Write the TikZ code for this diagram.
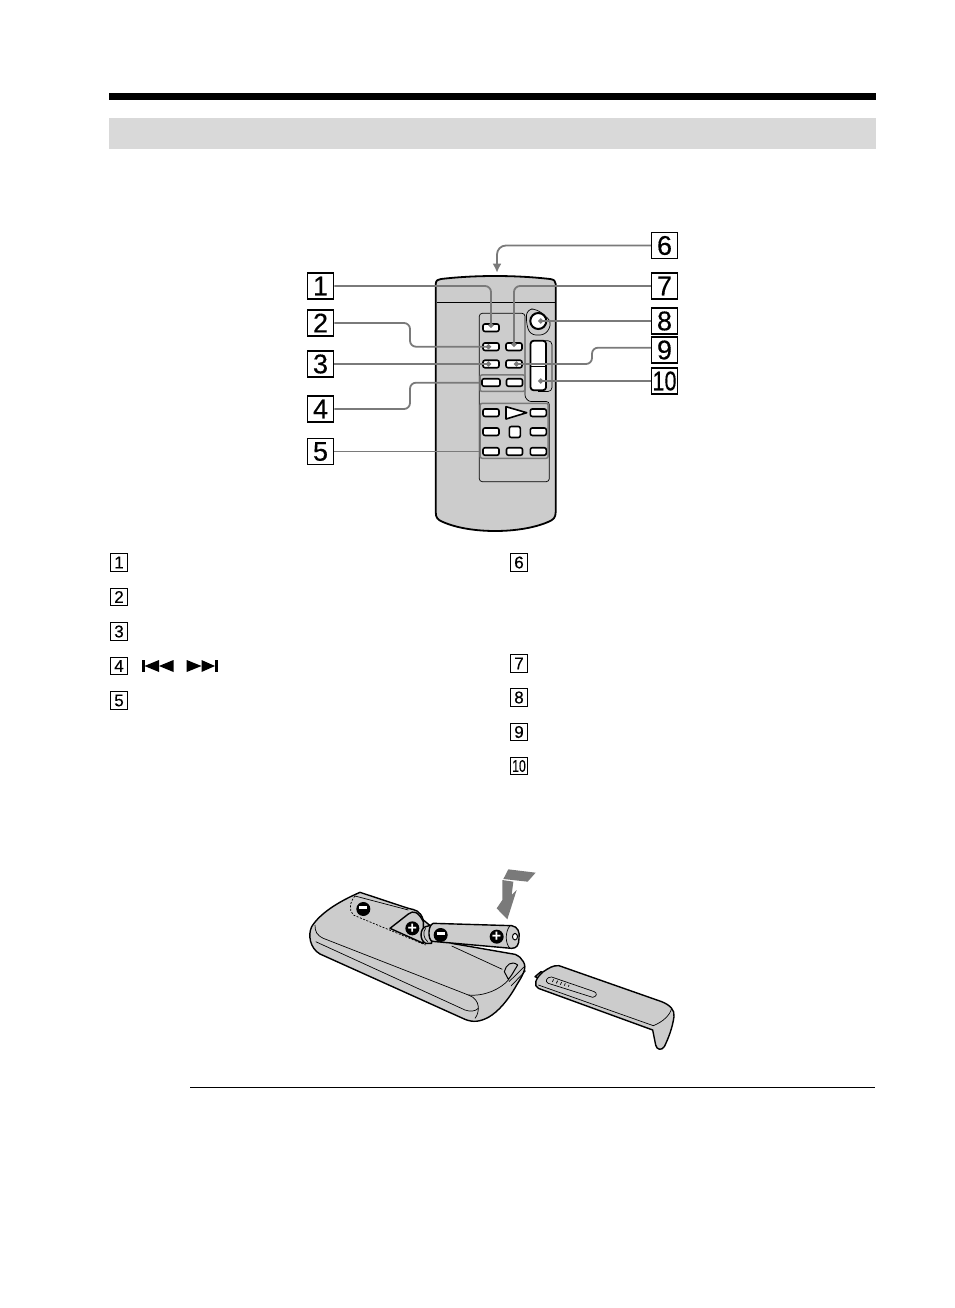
\documentclass[tikz,border=0pt]{standalone}
\usepackage{fontspec}
\usepackage{graphicx}
\usetikzlibrary{arrows.meta}
\setmainfont{Liberation Sans}
\newfontfamily\numfont[FakeBold=0.35]{Liberation Sans}
\definecolor{bodygray}{gray}{0.8}
\definecolor{bandgray}{gray}{0.85}
\definecolor{leadgray}{gray}{0.48}
\tikzset{
    numbig/.style = {rectangle, draw = black, fill = white, line width = 1.5pt, inner sep = 0pt,
        minimum width = 26pt, minimum height = 26pt, font = \numfont\fontsize{27}{27}\selectfont},
    numsmall/.style = {rectangle, draw = black, fill = white, line width = 1.2pt, inner sep = 0pt,
        minimum width = 17.5pt, minimum height = 17.5pt, font = \numfont\fontsize{17}{17}\selectfont},
    btn/.style = {rectangle, rounded corners = 2pt, draw = black, fill = white, line width = 1.6pt,
        inner sep = 0pt, minimum width = 16pt, minimum height = 7.5pt},
    grp/.style = {rectangle, rounded corners = 2pt, draw = leadgray, line width = 1.5pt, inner sep = 0pt},
    leader/.style = {draw = leadgray, line width = 1.8pt, rounded corners = 6pt},
    leaddot/.style = {leader, -{Circle[length=5pt]}},
    outl/.style = {draw = black, line width = 1.4pt, line join = round},
    thin line/.style = {draw = black, line width = 0.7pt},
    sign/.style = {circle, fill = black, inner sep = 0pt, minimum size = 14pt,
        text = white, font = \bfseries\fontsize{16}{16}\selectfont}
}
\begin{document}
\begin{tikzpicture}[x=1pt, y=-1pt]
\useasboundingbox (0,0) rectangle (954,1308);

% page header
\fill[black] (109,93) rectangle (876,100);
\fill[bandgray] (109,118) rectangle (876,149);

% remote control, front
\draw[outl, fill = bodygray, line width = 1.8pt] (435.7,284) .. controls (436,280) and (438,279.5) .. (441,279)
    .. controls (475,275) and (515,275) .. (550,279)
    .. controls (554,279.5) and (555.7,281) .. (555.7,284) -- (555.7,512)
    .. controls (555.7,518) and (553,520) .. (548,522)
    .. controls (520,534) and (470,534) .. (443,522)
    .. controls (438,520) and (435.7,518) .. (435.7,512) -- cycle;
\draw[thin line] (437,302.7) -- (555,302.7);
\draw[thin line, rounded corners = 3pt] (479.3,313.3) -- (525,313.3) -- (525,392)
    .. controls (525,398) and (528,401.5) .. (534,401.5) -- (549.3,401.5) -- (549.3,481.7) -- (479.3,481.7) -- cycle;

\node[grp, minimum width = 45pt, minimum height = 16.5pt] (g4) at (502.5,383.2) {};
\node[grp, minimum width = 68pt, minimum height = 55pt] (g5) at (514.2,430.8) {};

\node[btn] (b1) at (491,327.7) {};
\node[btn] (b2) at (491,346.7) {};
\node[btn] (b7) at (514,346.7) {};
\node[btn] (b3) at (491,364) {};
\node[btn] (b9) at (514,364) {};
\node[btn, minimum width = 18pt] (b4a) at (491,382.5) {};
\node[btn] (b4b) at (514.5,382.5) {};
\node[btn] (b5a) at (491,412.7) {};
\node[btn] (b5b) at (538.3,412.7) {};
\node[btn] (b5c) at (491,431.7) {};
\node[btn] (b5d) at (538.3,431.7) {};
\node[btn] (b5e) at (491,451.5) {};
\node[btn] (b5f) at (514.5,451.5) {};
\node[btn] (b5g) at (538.3,451.5) {};
\draw[outl, fill = white, line width = 1.6pt] (506,406.7) -- (526.7,412.7) -- (506,419) -- cycle;
\node[btn, minimum width = 11pt, minimum height = 11pt] (b5s) at (514.8,432) {};

\draw[thin line, rounded corners = 6pt] (527,309) -- (537,309) -- (552,322) -- (546,335) -- (530,335) -- (526,322) -- cycle;
\node[circle, draw = black, fill = white, line width = 2pt, inner sep = 0pt, minimum size = 16pt] (c8) at (538.3,321) {};
\draw[thin line, rounded corners = 4pt] (538,340.7) -- (552,340.7) -- (552,391.5) -- (538,391.5);
\node[rectangle, rounded corners = 3pt, draw = black, fill = white, line width = 1.8pt, inner sep = 0pt,
    minimum width = 15.5pt, minimum height = 49.5pt] (zm) at (538.3,365.5) {};
\draw[outl, line width = 1pt] (zm.west |- 0,366.7) -- (zm.east |- 0,366.7);
\coordinate (zt) at (538.3,381);

% callouts
\node[numbig] (n1) at (320.5,286) {1};
\node[numbig] (n2) at (320.5,323) {2};
\node[numbig] (n3) at (320.5,364) {3};
\node[numbig] (n4) at (320.5,409) {4};
\node[numbig] (n5) at (320.5,451.5) {5};
\node[numbig] (n6) at (664.5,245.5) {6};
\node[numbig] (n7) at (664.5,286) {7};
\node[numbig] (n8) at (664.5,321) {8};
\node[numbig] (n9) at (664.5,350) {9};
\node[numbig] (n10) at (664.5,381) {\scalebox{0.8}[1]{10}};

\coordinate (k2) at (410,346.7);
\coordinate (k4) at (410,382.7);
\coordinate (k6) at (497,272.7);
\coordinate (k9) at (592,364);

\draw[leaddot] (n1.east) -| (b1.center);
\draw[leaddot] (n2.east) -| (k2) -- (b2.center);
\draw[leaddot] (n3.east) -- (b3.center);
\draw[leader] (n4.east) -| (k4) -- (g4.west |- k4);
\draw[leader] (n5.east) -- (g5.west |- n5.east);
\draw[leader, rounded corners = 9pt, -{Latex[length=9pt, width=9pt]}] (n6.west) -| (k6);
\draw[leaddot] (n7.west) -| (b7.center);
\draw[leaddot] (n8.west) -- (c8.center);
\draw[leaddot] (n9.west |- 0,347.7) -| (k9) -- (b9.center);
\draw[leaddot] (n10.west) -- (zt);

% legend numbers
\node[numsmall] (s1) at (119,562.5) {1};
\node[numsmall] (s2) at (119,597) {2};
\node[numsmall] (s3) at (119,631.5) {3};
\node[numsmall] (s4) at (119,666) {4};
\node[numsmall] (s5) at (119,700.5) {5};
\node[numsmall] (s6) at (519,562.5) {6};
\node[numsmall] (s7) at (519,663.5) {7};
\node[numsmall] (s8) at (519,697.5) {8};
\node[numsmall] (s9) at (519,732) {9};
\node[numsmall] (s10) at (519,766) {\scalebox{0.72}[1]{10}};

% previous, next symbols
\fill[black] (141.7,660) rectangle (144.5,672);
\fill[black] (144.5,666) -- (159,660) -- (159,672) -- cycle;
\fill[black] (159,666) -- (173.5,660) -- (173.5,672) -- cycle;
\fill[black] (186.7,660) -- (201.5,666) -- (186.7,672) -- cycle;
\fill[black] (201.5,660) -- (215,666) -- (201.5,672) -- cycle;
\fill[black] (215,660) rectangle (218,672);

% remote control, battery side
\begin{scope}[shift={(295,860)}, scale=1/3]
\draw[outl, fill = bodygray] (195,97) .. controls (130,125) and (75,160) .. (50,200)
    .. controls (38,225) and (45,265) .. (75,282) -- (510,478)
    .. controls (535,488) and (555,485) .. (580,472)
    .. controls (610,455) and (640,420) .. (665,375)
    .. controls (680,350) and (698,325) .. (685,305)
    .. controls (680,295) and (672,288) .. (660,283)
    -- (470,250) -- (385,180)
    .. controls (375,150) and (360,150) .. (340,145) -- cycle;
\draw[thin line] (60,195) .. controls (60,215) and (65,225) .. (85,235) -- (520,405)
    .. controls (540,412) and (548,425) .. (550,440) .. controls (550,455) and (548,465) .. (540,475);
\draw[thin line] (520,405) .. controls (570,410) and (620,385) .. (642,358);
\draw[thin line] (62,245) -- (510,450) .. controls (525,455) and (540,455) .. (550,445);
\draw[thin line, dash pattern = on 2pt off 1.5pt] (180,108) .. controls (165,125) and (160,150) .. (175,165) -- (392,255);
\draw[thin line] (180,108) -- (340,150);
\draw[outl, fill = bodygray] (285,205) -- (340,162) .. controls (355,150) and (370,155) .. (385,185) -- (385,250) -- cycle;
\draw[thin line] (470,258) -- (622,328);
\draw[thin line] (642,365) -- (690,318);
\draw[thin line] (648,378) -- (692,332);
\draw[outl, fill = bodygray, line width = 1pt] (628,335) .. controls (632,315) and (650,300) .. (668,315) -- (650,345) -- (640,358) -- cycle;
\node[sign] (m1) at (205,147) {\rule[2.6pt]{8pt}{2.6pt}};
\node[sign] (p1) at (352,205) {+};

% battery
\draw[outl, fill = bodygray] (392,200) .. controls (375,205) and (372,240) .. (392,250) -- (410,250) -- (410,195) -- cycle;
\draw[thin line] (392,205) .. controls (383,215) and (385,235) .. (398,245);
\draw[outl, fill = bodygray] (415,190) -- (650,197) .. controls (668,200) and (675,215) .. (672,235)
    .. controls (672,255) and (665,265) .. (650,265) -- (412,244)
    .. controls (398,240) and (398,195) .. (415,190) -- cycle;
\draw[thin line] (645,197) .. controls (630,215) and (630,250) .. (645,265);
\draw[outl, fill = white, line width = 1pt] (660,220) .. controls (650,222) and (650,238) .. (660,240)
    .. controls (670,238) and (670,222) .. (660,220) -- cycle;
\node[sign] (m2) at (437,225) {\rule[2.6pt]{8pt}{2.6pt}};
\node[sign] (p2) at (605,230) {+};

% falling arrow
\fill[leadgray] (640,28) -- (722,38) -- (698,65) -- (625,57) -- cycle;
\fill[leadgray] (622,60) -- (655,65) -- (650,105) -- (665,90) -- (637,178) -- (605,145) -- (622,120) -- cycle;

% lid
\draw[outl, fill = bodygray] (720,350) -- (738,335) -- (750,340) -- (745,360) -- cycle;
\draw[outl, fill = bodygray] (745,335) .. controls (760,325) and (775,315) .. (792,317) -- (1100,425)
    .. controls (1125,435) and (1140,450) .. (1137,470)
    .. controls (1132,505) and (1120,535) .. (1108,560)
    .. controls (1100,572) and (1085,570) .. (1082,555)
    -- (1073,510) -- (730,385) .. controls (715,378) and (720,355) .. (745,335) -- cycle;
\draw[thin line] (730,375) -- (1075,497) .. controls (1105,485) and (1125,465) .. (1130,445);
\draw[thin line] (770,351) -- (898,395) .. controls (908,400) and (905,410) .. (893,412)
    -- (760,370) .. controls (748,365) and (755,350) .. (770,351) -- cycle;
\draw[thin line] (776,358) -- (772,366);
\draw[thin line] (788,362) -- (784,370);
\draw[thin line] (800,366) -- (796,374);
\draw[thin line] (811,370) -- (808,377);
\draw[thin line] (822,375) -- (820,380);
\end{scope}

% rule
\draw[black, line width = 1pt] (190,1087.5) -- (875,1087.5);
\end{tikzpicture}
\end{document}
